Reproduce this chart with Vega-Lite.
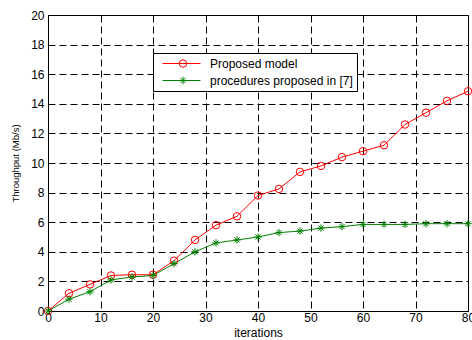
{
  "$schema": "https://vega.github.io/schema/vega-lite/v6.json",
  "autosize": {"type": "none"},
  "width": 420,
  "height": 296,
  "padding": {"left": 48, "top": 15, "right": 4, "bottom": 29},
  "background": "white",
  "config": {
    "font": "Liberation Sans",
    "view": {"stroke": "black", "strokeWidth": 1},
    "axis": {
      "labelFont": "Liberation Sans",
      "titleFont": "Liberation Sans",
      "labelFontSize": 12,
      "labelColor": "black",
      "titleColor": "black",
      "titleFontWeight": "normal",
      "domainColor": "black",
      "tickColor": "black",
      "gridColor": "black",
      "gridDash": [7, 4],
      "gridOpacity": 1,
      "gridWidth": 1
    }
  },
  "data": {
    "values": [
      {"series": "Proposed model", "x": 0, "y": 0},
      {"series": "Proposed model", "x": 4, "y": 1.2},
      {"series": "Proposed model", "x": 8, "y": 1.8},
      {"series": "Proposed model", "x": 12, "y": 2.4},
      {"series": "Proposed model", "x": 16, "y": 2.45},
      {"series": "Proposed model", "x": 20, "y": 2.45},
      {"series": "Proposed model", "x": 24, "y": 3.4},
      {"series": "Proposed model", "x": 28, "y": 4.8},
      {"series": "Proposed model", "x": 32, "y": 5.8},
      {"series": "Proposed model", "x": 36, "y": 6.4},
      {"series": "Proposed model", "x": 40, "y": 7.8},
      {"series": "Proposed model", "x": 44, "y": 8.25},
      {"series": "Proposed model", "x": 48, "y": 9.4},
      {"series": "Proposed model", "x": 52, "y": 9.8},
      {"series": "Proposed model", "x": 56, "y": 10.4},
      {"series": "Proposed model", "x": 60, "y": 10.8},
      {"series": "Proposed model", "x": 64, "y": 11.2},
      {"series": "Proposed model", "x": 68, "y": 12.6},
      {"series": "Proposed model", "x": 72, "y": 13.4},
      {"series": "Proposed model", "x": 76, "y": 14.2},
      {"series": "Proposed model", "x": 80, "y": 14.85},
      {"series": "procedures proposed in [7]", "x": 0, "y": 0},
      {"series": "procedures proposed in [7]", "x": 4, "y": 0.8},
      {"series": "procedures proposed in [7]", "x": 8, "y": 1.3},
      {"series": "procedures proposed in [7]", "x": 12, "y": 2.1},
      {"series": "procedures proposed in [7]", "x": 16, "y": 2.3},
      {"series": "procedures proposed in [7]", "x": 20, "y": 2.4},
      {"series": "procedures proposed in [7]", "x": 24, "y": 3.2},
      {"series": "procedures proposed in [7]", "x": 28, "y": 4.0},
      {"series": "procedures proposed in [7]", "x": 32, "y": 4.6},
      {"series": "procedures proposed in [7]", "x": 36, "y": 4.8},
      {"series": "procedures proposed in [7]", "x": 40, "y": 5.0},
      {"series": "procedures proposed in [7]", "x": 44, "y": 5.3},
      {"series": "procedures proposed in [7]", "x": 48, "y": 5.4},
      {"series": "procedures proposed in [7]", "x": 52, "y": 5.6},
      {"series": "procedures proposed in [7]", "x": 56, "y": 5.7},
      {"series": "procedures proposed in [7]", "x": 60, "y": 5.85},
      {"series": "procedures proposed in [7]", "x": 64, "y": 5.85},
      {"series": "procedures proposed in [7]", "x": 68, "y": 5.85},
      {"series": "procedures proposed in [7]", "x": 72, "y": 5.9},
      {"series": "procedures proposed in [7]", "x": 76, "y": 5.9},
      {"series": "procedures proposed in [7]", "x": 80, "y": 5.9}
    ]
  },
  "encoding": {
    "x": {
      "field": "x", "type": "quantitative",
      "scale": {"domain": [0, 80], "nice": false},
      "axis": {"values": [0, 10, 20, 30, 40, 50, 60, 70, 80], "title": "iterations", "titleFontSize": 12, "titlePadding": 4, "labelPadding": 1, "tickSize": 0, "domain": false, "labelFlush": false}
    },
    "y": {
      "field": "y", "type": "quantitative",
      "scale": {"domain": [0, 20], "nice": false},
      "axis": {"values": [0, 2, 4, 6, 8, 10, 12, 14, 16, 18, 20], "title": "Throughput (Mb/s)", "titleFontSize": 9.5, "titlePadding": 10, "labelPadding": 4, "tickSize": 0, "domain": false, "labelFlush": false}
    }
  },
  "layer": [
    {
      "mark": {"type": "line", "strokeWidth": 1},
      "encoding": {
        "color": {
          "field": "series", "type": "nominal",
          "scale": {"domain": ["Proposed model", "procedures proposed in [7]"], "range": ["#ff0000", "#008000"]},
          "legend": {
            "title": null,
            "orient": "none",
            "legendX": 105,
            "legendY": 38,
            "direction": "vertical",
            "fillColor": "white",
            "strokeColor": "black",
            "padding": 4,
            "labelFont": "Liberation Sans",
            "labelFontSize": 12,
            "labelColor": "black",
            "labelOffset": 9,
            "symbolType": "stroke",
            "symbolSize": 1444,
            "symbolStrokeWidth": 1,
            "symbolOffset": 5,
            "clipHeight": 13,
            "rowPadding": 4
          }
        }
      }
    },
    {
      "mark": {"type": "point", "filled": false, "strokeWidth": 1, "opacity": 1},
      "encoding": {
        "stroke": {
          "field": "series", "type": "nominal",
          "scale": {"domain": ["procedures proposed in [7]", "Proposed model"], "range": ["#008000", "#ff0000"]},
          "legend": {
            "title": null,
            "values": ["Proposed model", "procedures proposed in [7]"],
            "orient": "none",
            "legendX": 105,
            "legendY": 38,
            "direction": "vertical",
            "fillColor": "transparent",
            "padding": 4,
            "labelFont": "Liberation Sans",
            "labelFontSize": 12,
            "labelOpacity": 0,
            "labelExpr": "' '",
            "labelOffset": 39,
            "symbolSize": 56,
            "symbolStrokeWidth": 1,
            "symbolFillColor": "transparent",
            "symbolOffset": 20,
            "clipHeight": 13,
            "rowPadding": 4
          }
        },
        "shape": {
          "field": "series", "type": "nominal",
          "scale": {"domain": ["procedures proposed in [7]", "Proposed model"], "range": ["M-1,0L1,0M0,-1L0,1M-0.7,-0.7L0.7,0.7M-0.7,0.7L0.7,-0.7", "circle"]},
          "legend": {
            "title": null,
            "values": ["Proposed model", "procedures proposed in [7]"],
            "orient": "none",
            "legendX": 105,
            "legendY": 38,
            "direction": "vertical",
            "fillColor": "transparent",
            "padding": 4,
            "labelFont": "Liberation Sans",
            "labelFontSize": 12,
            "labelOpacity": 0,
            "labelExpr": "' '",
            "labelOffset": 39,
            "symbolSize": 56,
            "symbolStrokeWidth": 1,
            "symbolFillColor": "transparent",
            "symbolOffset": 20,
            "clipHeight": 13,
            "rowPadding": 4
          }
        },
        "size": {"value": 56}
      }
    }
  ]
}
